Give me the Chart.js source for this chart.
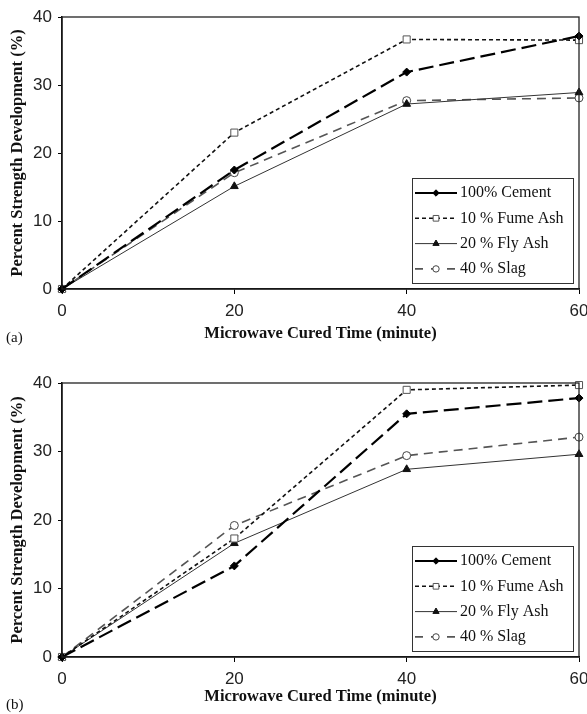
<!DOCTYPE html>
<html>
<head>
<meta charset="utf-8">
<script src="https://cdn.jsdelivr.net/npm/chart.js@4.4.1/dist/chart.umd.min.js"></script>
<style>
    html, body { margin: 0; padding: 0; background: #fff; }
    .panel { position: absolute; left: 0; width: 587px; height: 357px; }
    .tag { position: absolute; left: 6px; font: 15px 'Liberation Serif', serif; color: #111; }
</style>
</head>
<body>
<div class="panel" style="top:0"><canvas id="chartA"></canvas></div>
<div class="tag" style="top:329px">(a)</div>
<div class="panel" style="top:357px"><canvas id="chartB"></canvas></div>
<div class="tag" style="top:696px">(b)</div>

<script>
// ---------------- Datos ----------------

const minutes = [0, 20, 40, 60];
const seriesNames = ['100% Cement', '10 % Fume Ash', '20 % Fly Ash', '40 % Slag'];

// panel (a)
const cementA = [0, 17.5, 31.9, 37.2];
const fumeA   = [0, 23.0, 36.7, 36.6];
const flyA    = [0, 15.1, 27.2, 28.9];
const slagA   = [0, 17.1, 27.7, 28.1];

// panel (b)
const cementB = [0, 13.3, 35.5, 37.8];
const fumeB   = [0, 17.3, 39.0, 39.7];
const flyB    = [0, 16.6, 27.4, 29.6];
const slagB   = [0, 19.2, 29.4, 32.1];

const xTicks = [0, 20, 40, 60];
const yTicks = [0, 10, 20, 30, 40];

// ---------------- Estilos de las series ----------------

const seriesStyles = [
    { borderColor: '#000', borderWidth: 2.2, borderDash: [15, 6], legendDash: [],
      pointStyle: 'rectRot', pointRadius: 4, pointBackgroundColor: '#000', pointBorderColor: '#000' },
    { borderColor: '#111', borderWidth: 1.6, borderDash: [4, 3], legendDash: [4, 3],
      pointStyle: 'rect', pointRadius: 5, pointBackgroundColor: '#fff', pointBorderColor: '#555' },
    { borderColor: '#333', borderWidth: 1, borderDash: [], legendDash: [],
      pointStyle: 'triangle', pointRadius: 4.5, pointBackgroundColor: '#111', pointBorderColor: '#111' },
    { borderColor: '#555', borderWidth: 1.6, borderDash: [9, 6], legendDash: [8, 8],
      pointStyle: 'circle', pointRadius: 4, pointBackgroundColor: '#fff', pointBorderColor: '#444' }
];

const tickFont = { family: "'Liberation Sans Narrow', 'Arial Narrow', 'Liberation Sans', sans-serif", size: 17 };
const titleFont = { family: "'Liberation Serif', serif", size: 16.5, weight: 'bold' };

// ---------------- Marco y leyenda ----------------

const framePlugin = {
    id: 'frame',
    afterDraw(chart) {
        const { ctx, chartArea: a } = chart;
        ctx.save();
        ctx.strokeStyle = '#222';
        ctx.lineWidth = 1.3;
        ctx.strokeRect(a.left, a.top, a.right - a.left, a.bottom - a.top);

        // leyenda
        const w = 161, h = 105;
        const x0 = a.right - 6 - w, y0 = a.bottom - 6 - h;
        ctx.fillStyle = '#fff';
        ctx.fillRect(x0, y0, w, h);
        ctx.strokeStyle = '#333';
        ctx.lineWidth = 1;
        ctx.strokeRect(x0 + 0.5, y0 + 0.5, w, h);

        chart.data.datasets.forEach((ds, i) => {
            const y = y0 + 15 + i * 25.3;
            ctx.setLineDash(ds.legendDash);
            ctx.strokeStyle = ds.borderColor;
            ctx.lineWidth = ds.borderWidth;
            ctx.beginPath();
            ctx.moveTo(x0 + 3, y);
            ctx.lineTo(x0 + 45, y);
            ctx.stroke();
            ctx.setLineDash([]);

            ctx.fillStyle = ds.pointBackgroundColor;
            ctx.strokeStyle = ds.pointBorderColor;
            ctx.lineWidth = 1;
            Chart.helpers.drawPoint(ctx, {
                pointStyle: ds.pointStyle,
                radius: ds.pointRadius * 0.8,
                borderWidth: 1,
                rotation: 0
            }, x0 + 24, y);

            ctx.fillStyle = '#111';
            ctx.font = "16px 'Liberation Serif', serif";
            ctx.textBaseline = 'middle';
            ctx.textAlign = 'left';
            ctx.fillText(ds.label, x0 + 48, y);
        });
        ctx.restore();
    }
};

// ---------------- Gráfica ----------------

function createPanel({ id, series, top, chartBottom, titlePad }) {
    const canvasHeight = 357;

    const datasets = series.map((values, i) => ({
        label: seriesNames[i],
        data: minutes.map((m, j) => ({ x: m, y: values[j] })),
        ...seriesStyles[i],
        pointBorderWidth: 1,
        tension: 0,
        clip: false,
        fill: false
    }));

    new Chart(document.getElementById(id), {
        type: 'line',
        data: { datasets },
        options: {
            responsive: true,
            maintainAspectRatio: false,
            animation: false,
            layout: { padding: { top, right: 8, bottom: 0, left: 0 }, autoPadding: false },
            plugins: { legend: { display: false }, tooltip: { enabled: false } },
            scales: {
                x: {
                    type: 'linear',
                    min: 0,
                    max: 60,
                    afterBuildTicks: s => { s.ticks = xTicks.map(v => ({ value: v })); },
                    afterFit: s => {
                        s.height = canvasHeight - chartBottom;
                        s.paddingLeft = 0;
                        s.paddingRight = 0;
                    },
                    ticks: { color: '#222', font: tickFont, padding: 7 },
                    grid: { drawOnChartArea: false, tickLength: 5, color: '#000' },
                    border: { color: '#000', width: 1.5 },
                    title: {
                        display: true,
                        text: 'Microwave Cured Time (minute)',
                        color: '#111',
                        font: titleFont,
                        padding: { top: 0, bottom: titlePad }
                    }
                },
                y: {
                    min: 0,
                    max: 40,
                    afterBuildTicks: s => { s.ticks = yTicks.map(v => ({ value: v })); },
                    afterFit: s => {
                        s.width = 62;
                        s.paddingTop = 0;
                        s.paddingBottom = 0;
                    },
                    ticks: { color: '#222', font: tickFont, padding: 6 },
                    grid: { drawOnChartArea: false, tickLength: 4, color: '#000' },
                    border: { color: '#000', width: 1.5 },
                    title: {
                        display: true,
                        text: 'Percent Strength Development (%)',
                        color: '#111',
                        font: titleFont,
                        padding: { top: 8, bottom: 0 }
                    }
                }
            }
        },
        plugins: [framePlugin]
    });
}

createPanel({ id: 'chartA', series: [cementA, fumeA, flyA, slagA], top: 17, chartBottom: 289, titlePad: 13 });
createPanel({ id: 'chartB', series: [cementB, fumeB, flyB, slagB], top: 26, chartBottom: 300, titlePad: 7 });
</script>
</body>
</html>
